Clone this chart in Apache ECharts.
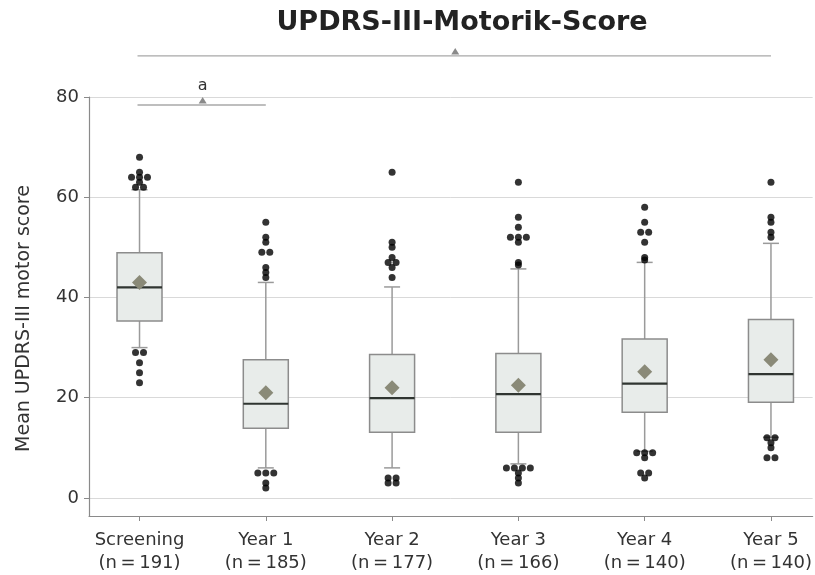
<!DOCTYPE html>
<html>
<head>
<meta charset="utf-8">
<script src="https://cdn.jsdelivr.net/npm/echarts@6/dist/echarts.min.js"></script>
<style>
  html, body { margin: 0; padding: 0; background: #fff; }
  #chart { width: 815px; height: 575px; }
</style>
</head>
<body>
<div id="chart"></div>
<script>
// Visits and their sample sizes
const categories = ['Screening', 'Year 1', 'Year 2', 'Year 3', 'Year 4', 'Year 5'];
const counts = [191, 185, 177, 166, 140, 140];

// Box plot statistics per visit
const whiskerLow  = [30.0,  6.0,  6.0,  6.8,  9.3, 12.1];
const quartile1   = [35.3, 13.9, 13.1, 13.1, 17.1, 19.1];
const medians     = [42.0, 18.8, 19.9, 20.7, 22.8, 24.7];
const quartile3   = [48.9, 27.6, 28.6, 28.8, 31.7, 35.6];
const whiskerHigh = [61.5, 43.0, 42.1, 45.7, 47.0, 50.8];
const means       = [43.0, 21.0, 22.0, 22.5, 25.2, 27.6];

// Individual outlying scores per visit
const outliers = [
  [68, 65, 64, 64, 64, 63, 62, 62, 29, 29, 27, 25, 23],
  [55, 52, 51, 49, 49, 46, 45, 44, 5, 5, 5, 3, 2],
  [65, 51, 50, 48, 47, 47, 46, 44, 4, 4, 3, 3],
  [63, 56, 54, 52, 52, 52, 51, 47, 46.5, 6, 6, 6, 6, 5, 4, 3],
  [58, 55, 53, 53, 51, 48, 47.5, 9, 9, 9, 8, 5, 5, 4],
  [63, 56, 55, 53, 52, 12, 12, 11, 10, 8, 8]
];

// Y axis tick labels
const yTicks = [0, 20, 40, 60, 80];

// Pairwise comparison brackets (visit index range, height in score units, marker)
const comparisonFrom  = [0, 0];
const comparisonTo    = [5, 1];
const comparisonLevel = [88.2, 78.4];
const comparisonLabel = ['', 'a'];

const FONT = "'DejaVu Sans', 'Noto Sans', sans-serif";
const X_MIN = -0.4, X_MAX = 5.33, Y_MIN = -3.6, Y_MAX = 80;
const GRID = { left: 89, right: 0, top: 97, bottom: 59 };
const pxPerUnit = (815 - GRID.left - GRID.right) / (X_MAX - X_MIN);

// Box rows: [visit, low, q1, median, q3, high, mean]
const boxRows = categories.map((c, i) =>
  [i, whiskerLow[i], quartile1[i], medians[i], quartile3[i], whiskerHigh[i], means[i]]);

// Spread tied outliers side by side
const outlierPoints = [];
outliers.forEach((vals, i) => {
  const groups = new Map();
  vals.forEach(v => groups.set(v, (groups.get(v) || 0) + 1));
  groups.forEach((n, v) => {
    for (let k = 0; k < n; k++) {
      const offsetPx = (k - (n - 1) / 2) * 8;
      outlierPoints.push([i + offsetPx / pxPerUnit, v]);
    }
  });
});

const comparisonRows = comparisonFrom.map((f, i) => [f, comparisonTo[i], comparisonLevel[i], i]);

const chart = echarts.init(document.getElementById('chart'));
chart.setOption({
  animation: false,
  title: {
    text: 'UPDRS-III-Motorik-Score',
    left: 457, top: 4, textAlign: 'center',
    textStyle: { fontFamily: "'DejaVu Sans', Verdana, sans-serif", fontWeight: 'bold', fontSize: 27, color: '#222' }
  },
  grid: GRID,
  xAxis: {
    type: 'value', min: X_MIN, max: X_MAX,
    axisLine: { show: true, onZero: false, lineStyle: { color: '#8a8a8a', width: 1.2 } },
    axisTick: { show: true, length: 5, customValues: categories.map((c, i) => i), lineStyle: { color: '#8a8a8a' } },
    splitLine: { show: false },
    axisLabel: {
      customValues: categories.map((c, i) => i),
      formatter: v => categories[Math.round(v)] + '\n(n\u2009=\u2009' + counts[Math.round(v)] + ')',
      fontFamily: FONT, fontSize: 18, color: '#333', lineHeight: 23, margin: 13
    }
  },
  yAxis: {
    type: 'value', min: Y_MIN, max: Y_MAX,
    name: 'Mean UPDRS-III motor score', nameLocation: 'middle', nameGap: 55,
    nameTextStyle: { fontFamily: FONT, fontSize: 19, color: '#333', padding: [0, 24, 0, 0] },
    axisLine: { show: true, onZero: false, lineStyle: { color: '#8a8a8a', width: 1.2 } },
    axisTick: { show: true, length: 5, customValues: yTicks, lineStyle: { color: '#8a8a8a' } },
    axisLabel: { customValues: yTicks, fontFamily: FONT, fontSize: 18, color: '#333', margin: 10 },
    splitLine: { show: true, lineStyle: { color: '#d9d9d9', width: 1 } }
  },
  series: [
    {
      type: 'custom',
      data: boxRows,
      encode: { x: 0, y: [1, 2, 3, 4, 5, 6] },
      z: 2,
      renderItem(params, api) {
        const x = api.value(0);
        const pLow = api.coord([x, api.value(1)]);
        const pQ1 = api.coord([x, api.value(2)]);
        const pMed = api.coord([x, api.value(3)]);
        const pQ3 = api.coord([x, api.value(4)]);
        const pHigh = api.coord([x, api.value(5)]);
        const pMean = api.coord([x, api.value(6)]);
        const cx = pQ1[0], half = 22.5, cap = 8, d = 7.5;
        const whisker = { stroke: '#9a9a9a', lineWidth: 1.5 };
        return {
          type: 'group',
          children: [
            { type: 'line', shape: { x1: cx, y1: pQ3[1], x2: cx, y2: pHigh[1] }, style: whisker },
            { type: 'line', shape: { x1: cx, y1: pQ1[1], x2: cx, y2: pLow[1] }, style: whisker },
            { type: 'line', shape: { x1: cx - cap, y1: pHigh[1], x2: cx + cap, y2: pHigh[1] }, style: whisker },
            { type: 'line', shape: { x1: cx - cap, y1: pLow[1], x2: cx + cap, y2: pLow[1] }, style: whisker },
            { type: 'rect', shape: { x: cx - half, y: pQ3[1], width: half * 2, height: pQ1[1] - pQ3[1] },
              style: { fill: '#e8ecea', stroke: '#8c8c8c', lineWidth: 1.5 } },
            { type: 'line', shape: { x1: cx - half, y1: pMed[1], x2: cx + half, y2: pMed[1] },
              style: { stroke: '#2f3531', lineWidth: 2.2 } },
            { type: 'polygon', shape: { points: [[cx, pMean[1] - d], [cx + d, pMean[1]], [cx, pMean[1] + d], [cx - d, pMean[1]]] },
              style: { fill: '#8a8a78' } }
          ]
        };
      }
    },
    {
      type: 'scatter',
      data: outlierPoints,
      symbol: 'circle', symbolSize: 7,
      itemStyle: { color: '#000' },
      z: 3
    },
    {
      type: 'custom',
      data: comparisonRows,
      encode: { x: [0, 1], y: 2 },
      clip: false,
      z: 4,
      renderItem(params, api) {
        const a = api.coord([api.value(0), api.value(2)]);
        const b = api.coord([api.value(1), api.value(2)]);
        const mid = (a[0] + b[0]) / 2, y = a[1];
        const label = comparisonLabel[api.value(3)];
        const children = [
          { type: 'line', shape: { x1: a[0] - 2, y1: y, x2: b[0], y2: y }, style: { stroke: '#a8a8a8', lineWidth: 1.3 } },
          { type: 'polygon', shape: { points: [[mid, y - 8], [mid + 4, y - 1.5], [mid - 4, y - 1.5]] }, style: { fill: '#8a8a8a' } }
        ];
        if (label) {
          children.push({ type: 'text', x: mid, y: y - 11,
            style: { text: label, fontFamily: FONT, fontSize: 16, fill: '#333', align: 'center', verticalAlign: 'bottom' } });
        }
        return { type: 'group', children };
      }
    }
  ]
});
</script>
</body>
</html>
